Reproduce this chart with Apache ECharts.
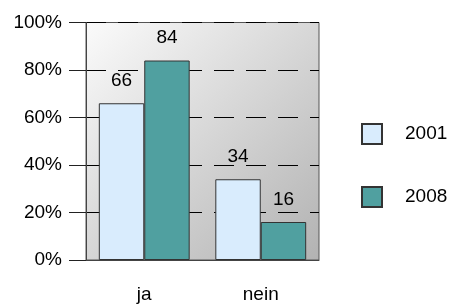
<!DOCTYPE html>
<html><head><meta charset="utf-8">
<script src="https://cdn.jsdelivr.net/npm/echarts@6/dist/echarts.min.js"></script>
<style>html,body{margin:0;padding:0;background:#fff}#c{width:452px;height:304px}</style>
</head><body><div id="c"></div>
<script>
var categories = ['ja', 'nein'];
var seriesNames = ['2001', '2008'];
var values2001 = [66, 34];
var values2008 = [84, 16];
var yTicks = [0, 20, 40, 60, 80, 100];

var chart = echarts.init(document.getElementById('c'), null, {renderer: 'canvas'});
var font = 'Liberation Sans, Arial, sans-serif';
var fs = 19;
chart.setOption({
  animation: false,
  textStyle: {fontFamily: font},
  grid: {
    left: 86, right: 133, top: 22.5, bottom: 43,
    show: true,
    backgroundColor: new echarts.graphic.LinearGradient(0, 0, 1, 1, [
      {offset: 0, color: '#fbfbfb'},
      {offset: 1, color: '#b2b2b2'}
    ]),
    borderColor: '#555', borderWidth: 1
  },
  legend: {
    orient: 'vertical', left: 356, top: 118,
    itemWidth: 20, itemHeight: 20, itemGap: 41,
    icon: 'rect',
    textStyle: {fontSize: fs, color: '#000', fontFamily: font, padding: [0, 0, 0, 18]},
    data: seriesNames
  },
  xAxis: {
    type: 'category', data: categories,
    axisTick: {show: false},
    axisLine: {lineStyle: {color: '#444'}},
    axisLabel: {fontSize: fs, color: '#000', margin: 25, fontFamily: font}
  },
  yAxis: {
    type: 'value', min: yTicks[0], max: yTicks[yTicks.length - 1], interval: 20,
    axisLine: {show: true, lineStyle: {color: '#444'}},
    axisTick: {show: true, length: 17, lineStyle: {color: '#222'}},
    axisLabel: {formatter: '{value}%', fontSize: fs, color: '#000', margin: 24, fontFamily: font},
    splitLine: {lineStyle: {color: '#000', type: [20, 12], width: 1}}
  },
  series: [
    {
      name: seriesNames[0], type: 'bar', data: values2001,
      barGap: '0%', barCategoryGap: '22%',
      itemStyle: {color: '#d9ecfd', borderColor: '#333', borderWidth: 1},
      label: {show: true, position: 'top', distance: 13, fontSize: fs, color: '#000', fontFamily: font}
    },
    {
      name: seriesNames[1], type: 'bar', data: values2008,
      barGap: '0%', barCategoryGap: '22%',
      itemStyle: {color: '#50a0a0', borderColor: '#333', borderWidth: 1},
      label: {show: true, position: 'top', distance: 13, fontSize: fs, color: '#000', fontFamily: font}
    }
  ]
});
</script></body></html>
